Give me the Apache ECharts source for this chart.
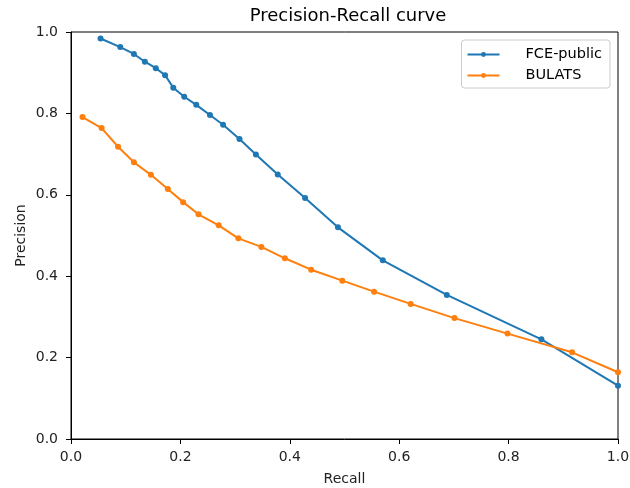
<!DOCTYPE html>
<html><head><meta charset="utf-8">
<script src="https://cdn.jsdelivr.net/npm/echarts@6/dist/echarts.min.js"></script>
<style>html,body{margin:0;padding:0;background:#fff}#c{width:630px;height:488px}</style>
</head><body><div id="c"></div>
<script>
const fceRecall = [0.054,0.090,0.115,0.135,0.155,0.172,0.187,0.207,0.229,0.254,0.278,0.308,0.338,0.378,0.428,0.488,0.570,0.687,0.860,1.0];
const fcePrecision = [0.984,0.963,0.946,0.927,0.911,0.894,0.863,0.841,0.821,0.796,0.772,0.737,0.699,0.650,0.592,0.520,0.439,0.354,0.245,0.131];
const bulatsRecall = [0.021,0.056,0.086,0.115,0.146,0.177,0.205,0.233,0.270,0.306,0.348,0.391,0.439,0.496,0.554,0.621,0.701,0.798,0.916,1.0];
const bulatsPrecision = [0.791,0.764,0.718,0.680,0.649,0.614,0.582,0.552,0.525,0.493,0.472,0.444,0.416,0.389,0.362,0.332,0.297,0.259,0.213,0.164];
const ticks = [0, 0.2, 0.4, 0.6, 0.8, 1.0];

const zip = (a, b) => a.map((v, i) => [v, b[i]]);
const font = 'DejaVu Sans';
const chart = echarts.init(document.getElementById('c'), null, {renderer: 'canvas'});
const axisCommon = {
  type: 'value', min: ticks[0], max: ticks[ticks.length - 1], interval: ticks[1] - ticks[0],
  axisLine: {show: true, onZero: false, lineStyle: {color: '#000', width: 1}},
  axisTick: {show: true, inside: false, length: 5, lineStyle: {color: '#000'}},
  axisLabel: {color: '#222', fontFamily: font, fontSize: 14, formatter: v => v.toFixed(1)},
  splitLine: {show: false},
  nameMoveOverlap: false,
  nameTextStyle: {color: '#222', fontFamily: font, fontSize: 14}
};
chart.setOption({
  animation: false,
  backgroundColor: '#fff',
  title: {text: 'Precision-Recall curve', left: 343, top: 2, textAlign: 'center',
    textStyle: {fontFamily: font, fontSize: 18, fontWeight: 'normal', color: '#000'}},
  grid: {left: 71, right: 12, top: 32, bottom: 49, show: true, borderColor: '#000', borderWidth: 1,
    containLabel: false, outerBoundsMode: 'none'},
  legend: {
    right: 20, top: 40, orient: 'vertical',
    data: ['FCE-public', 'BULATS'],
    itemWidth: 32, itemHeight: 6, itemGap: 6,
    borderColor: '#ccc', borderWidth: 1, borderRadius: 3,
    padding: [7, 8, 5, 5],
    textStyle: {fontFamily: font, fontSize: 14.5, color: '#000', padding: [0, 0, 0, 21]}
  },
  xAxis: Object.assign({}, axisCommon, {name: 'Recall', nameLocation: 'middle', nameGap: 33,
    axisLabel: Object.assign({}, axisCommon.axisLabel, {margin: 11})}),
  yAxis: Object.assign({}, axisCommon, {name: 'Precision', nameLocation: 'middle', nameGap: 43,
    axisLabel: Object.assign({}, axisCommon.axisLabel, {margin: 13})}),
  series: [
    {name: 'FCE-public', type: 'line', data: zip(fceRecall, fcePrecision), color: '#1f77b4',
      symbol: 'circle', symbolSize: 6, lineStyle: {width: 2}, z: 2},
    {name: 'BULATS', type: 'line', data: zip(bulatsRecall, bulatsPrecision), color: '#ff7f0e',
      symbol: 'circle', symbolSize: 6, lineStyle: {width: 2}, z: 3}
  ]
});
</script></body></html>
